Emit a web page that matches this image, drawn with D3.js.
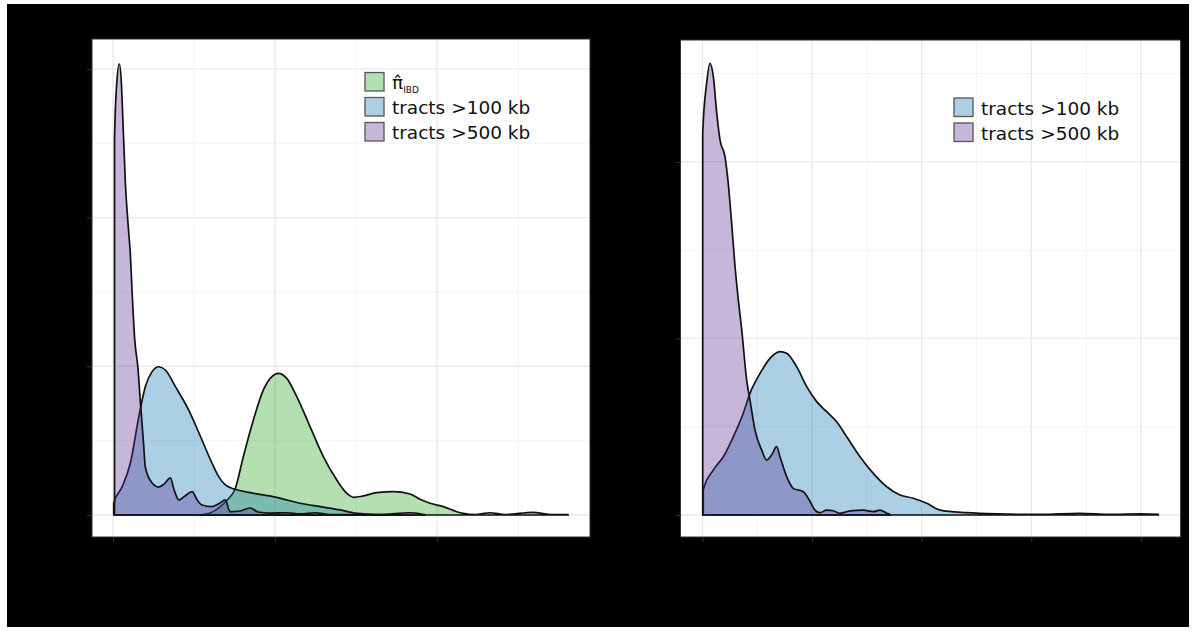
<!DOCTYPE html>
<html>
<head>
<meta charset="utf-8">
<title>IBD density panels</title>
<script src="https://cdn.jsdelivr.net/npm/d3@7"></script>
<style>
  body { margin: 0; background: #fff; }
  text { font-family: "DejaVu Sans", sans-serif; }
</style>
</head>
<body>
<div id="chart"></div>
<script>

// ---- data: [x, density] ----
const piIBD = [
  [0.0537, 0], [0.0599, 0.13], [0.0660, 0.54], [0.0704, 1.01], [0.0753, 1.73],
  [0.0804, 3.92], [0.0866, 6.39], [0.0928, 8.41], [0.0980, 9.30], [0.1020, 9.53],
  [0.1072, 9.19], [0.1134, 7.96], [0.1216, 5.94], [0.1298, 3.92], [0.1381, 2.35],
  [0.1443, 1.46], [0.1483, 1.19], [0.1545, 1.28], [0.1628, 1.50], [0.1730, 1.57],
  [0.1833, 1.41], [0.1895, 1.06], [0.1957, 0.79], [0.2039, 0.56], [0.2122, 0.22],
  [0.2162, 0.11], [0.2235, 0.03], [0.2327, 0.15], [0.2420, 0.03], [0.2593, 0.18],
  [0.2698, 0.03], [0.2809, 0.03]
];
const tracts100a = [
  [0.0004, 0.79], [0.0056, 1.90], [0.0107, 3.50], [0.0159, 6.61], [0.0199, 8.63],
  [0.0241, 9.64], [0.0282, 9.97], [0.0323, 9.75], [0.0385, 8.63], [0.0467, 7.06],
  [0.0549, 5.04], [0.0611, 3.48], [0.0652, 2.58], [0.0693, 2.02], [0.0753, 1.73],
  [0.0846, 1.50], [0.1010, 1.19], [0.1154, 0.79], [0.1278, 0.56], [0.1401, 0.34],
  [0.1504, 0.11], [0.1648, 0.03], [0.1772, 0.01]
];
const tracts500a = [
  [0.0009, 25.22], [0.0022, 28.92], [0.0039, 30.33], [0.0052, 28.92], [0.0060, 26.77],
  [0.0076, 22.33], [0.0093, 19.50], [0.0107, 17.48], [0.0120, 14.46], [0.0134, 11.77],
  [0.0153, 9.95], [0.0169, 7.53], [0.0188, 4.84], [0.0199, 3.23], [0.0241, 2.15],
  [0.0282, 1.88], [0.0315, 2.08], [0.0354, 2.49], [0.0377, 1.68], [0.0406, 1.01],
  [0.0444, 1.28], [0.0488, 1.57], [0.0519, 1.01], [0.0549, 0.67], [0.0611, 0.56],
  [0.0660, 0.81], [0.0693, 1.01], [0.0722, 0.22], [0.0784, 0.27], [0.0846, 0.47],
  [0.0895, 0.20], [0.0969, 0.13], [0.1072, 0.15], [0.1154, 0.07], [0.1247, 0.15],
  [0.1340, 0.03], [0.1648, 0.03], [0.1833, 0.15], [0.1926, 0.01]
];
const tracts100b = [
  [0.07, 1.42], [0.99, 2.55], [1.90, 3.30], [2.81, 4.43], [3.72, 5.76],
  [4.33, 6.89], [5.25, 8.02], [6.16, 8.87], [7.07, 9.25], [7.68, 9.16],
  [8.59, 8.40], [9.51, 7.27], [10.42, 6.42], [11.33, 5.85], [12.24, 5.28],
  [13.16, 4.43], [14.37, 3.30], [15.58, 2.36], [16.81, 1.60], [18.02, 1.13],
  [19.23, 0.95], [20.46, 0.66], [21.67, 0.28], [24.11, 0.13], [26.84, 0.06],
  [30.79, 0.03], [34.44, 0.10], [37.18, 0.03], [39.92, 0.07], [41.59, 0.03]
];
const tracts500b = [
  [0.02, 21.63], [0.38, 24.46], [0.68, 25.58], [0.99, 24.82], [1.30, 22.76],
  [1.60, 21.23], [2.05, 20.29], [2.35, 18.78], [2.66, 16.52], [2.97, 14.06],
  [3.27, 12.17], [3.58, 10.48], [4.03, 7.64], [4.33, 6.51], [4.79, 4.81],
  [5.40, 3.68], [5.86, 3.11], [6.31, 3.40], [6.77, 3.87], [7.07, 3.30],
  [7.68, 2.17], [8.28, 1.51], [9.20, 1.32], [9.65, 0.95], [10.26, 0.28],
  [10.72, 0.13], [11.33, 0.28], [11.93, 0.24], [12.55, 0.10], [13.46, 0.23],
  [14.67, 0.28], [15.58, 0.19], [16.20, 0.28], [16.81, 0.10], [17.11, 0.03]
];

// axis ticks
const xMajor1 = [0, 0.1, 0.2], xMinor1 = [0.05, 0.15, 0.25];
const yMajor1 = [0, 10, 20, 30], yMinor1 = [5, 15, 25];
const xMajor2 = [0, 10, 20, 30, 40], xMinor2 = [5, 15, 25, 35];
const yMajor2 = [0, 10, 20], yMinor2 = [5, 15, 25];

const colors = { ibd: "rgb(41,164,29)", t100: "rgb(15,121,184)", t500: "rgb(92,46,146)" };
const fillAlpha = 0.35;

const width = 1195, height = 632;

const svg = d3.select("#chart").append("svg")
  .attr("width", width)
  .attr("height", height);

// black backdrop
svg.append("rect")
  .attr("x", 7).attr("y", 4)
  .attr("width", 1182).attr("height", 623)
  .attr("fill", "#000");

function drawPanel(cfg) {
  const x = d3.scaleLinear().domain(cfg.xDomain).range([cfg.left, cfg.right]);
  const y = d3.scaleLinear().domain(cfg.yDomain).range([cfg.bottom, cfg.top]);
  const g = svg.append("g");

  g.append("rect")
    .attr("x", cfg.left).attr("y", cfg.top)
    .attr("width", cfg.right - cfg.left).attr("height", cfg.bottom - cfg.top)
    .attr("fill", "#fff");

  // grid
  g.selectAll(".vmin").data(cfg.xMinor).enter().append("line")
    .attr("x1", d => x(d)).attr("x2", d => x(d))
    .attr("y1", cfg.top).attr("y2", cfg.bottom)
    .attr("stroke", "#f2f2f2").attr("stroke-width", 0.9);
  g.selectAll(".hmin").data(cfg.yMinor).enter().append("line")
    .attr("y1", d => y(d)).attr("y2", d => y(d))
    .attr("x1", cfg.left).attr("x2", cfg.right)
    .attr("stroke", "#f2f2f2").attr("stroke-width", 0.9);
  g.selectAll(".vmaj").data(cfg.xMajor).enter().append("line")
    .attr("x1", d => x(d)).attr("x2", d => x(d))
    .attr("y1", cfg.top).attr("y2", cfg.bottom)
    .attr("stroke", "#eaeaea").attr("stroke-width", 1.4);
  g.selectAll(".hmaj").data(cfg.yMajor).enter().append("line")
    .attr("y1", d => y(d)).attr("y2", d => y(d))
    .attr("x1", cfg.left).attr("x2", cfg.right)
    .attr("stroke", "#eaeaea").attr("stroke-width", 1.4);

  // densities, drawn in legend order so later ones sit on top
  const area = d3.area()
    .x(d => x(d[0]))
    .y0(y(0))
    .y1(d => y(d[1]))
    .curve(d3.curveMonotoneX);

  cfg.series.forEach(s => {
    g.append("path")
      .datum(s.values)
      .attr("d", d => {
        // close the outline down to the baseline like a density polygon
        const first = d[0], last = d[d.length - 1];
        return area([[first[0], 0]].concat(d, [[last[0], 0]]));
      })
      .attr("fill", s.color)
      .attr("fill-opacity", fillAlpha)
      .attr("stroke", "#111")
      .attr("stroke-width", 1.7)
      .attr("stroke-linejoin", "round");
  });

  // panel border
  g.append("rect")
    .attr("x", cfg.left).attr("y", cfg.top)
    .attr("width", cfg.right - cfg.left).attr("height", cfg.bottom - cfg.top)
    .attr("fill", "none").attr("stroke", "#333").attr("stroke-width", 1);

  // ticks (labels are black on black in the original, so left empty)
  g.append("g")
    .attr("transform", "translate(0," + cfg.bottom + ")")
    .call(d3.axisBottom(x).tickValues(cfg.xMajor).tickFormat("").tickSize(5).tickSizeOuter(0))
    .call(a => a.select(".domain").remove())
    .selectAll("line").attr("stroke", "#333");
  g.append("g")
    .attr("transform", "translate(" + cfg.left + ",0)")
    .call(d3.axisLeft(y).tickValues(cfg.yMajor).tickFormat("").tickSize(5).tickSizeOuter(0))
    .call(a => a.select(".domain").remove())
    .selectAll("line").attr("stroke", "#333");

  // legend
  const lg = g.append("g").attr("transform", "translate(" + cfg.legendX + "," + cfg.legendY + ")");
  cfg.series.forEach((s, i) => {
    const row = lg.append("g").attr("transform", "translate(0," + (i * 25) + ")");
    row.append("rect")
      .attr("x", 0).attr("y", 0).attr("width", 19).attr("height", 18.5)
      .attr("fill", s.color).attr("fill-opacity", fillAlpha)
      .attr("stroke", "#555").attr("stroke-width", 1.3);
    const t = row.append("text")
      .attr("x", 27).attr("y", 16.5)
      .attr("font-size", 18.5)
      .attr("fill", "#111");
    if (s.sub) {
      t.append("tspan").text(s.label);
      t.append("tspan").attr("font-size", 9).attr("dy", 4).text(s.sub);
    } else {
      t.text(s.label);
    }
  });
}

drawPanel({
  left: 92, right: 590, top: 39, bottom: 537,
  xDomain: [-0.0130, 0.2944], yDomain: [-1.48, 32.01],
  xMajor: xMajor1, xMinor: xMinor1, yMajor: yMajor1, yMinor: yMinor1,
  legendX: 365, legendY: 72.5,
  series: [
    { label: "\u03c0\u0302", sub: "IBD", color: colors.ibd, values: piIBD },
    { label: "tracts >100 kb", color: colors.t100, values: tracts100a },
    { label: "tracts >500 kb", color: colors.t500, values: tracts500a }
  ]
});

drawPanel({
  left: 680.5, right: 1180.6, top: 40, bottom: 537,
  xDomain: [-2.007, 43.62], yDomain: [-1.246, 26.9],
  xMajor: xMajor2, xMinor: xMinor2, yMajor: yMajor2, yMinor: yMinor2,
  legendX: 954, legendY: 98,
  series: [
    { label: "tracts >100 kb", color: colors.t100, values: tracts100b },
    { label: "tracts >500 kb", color: colors.t500, values: tracts500b }
  ]
});

</script>
</body>
</html>
